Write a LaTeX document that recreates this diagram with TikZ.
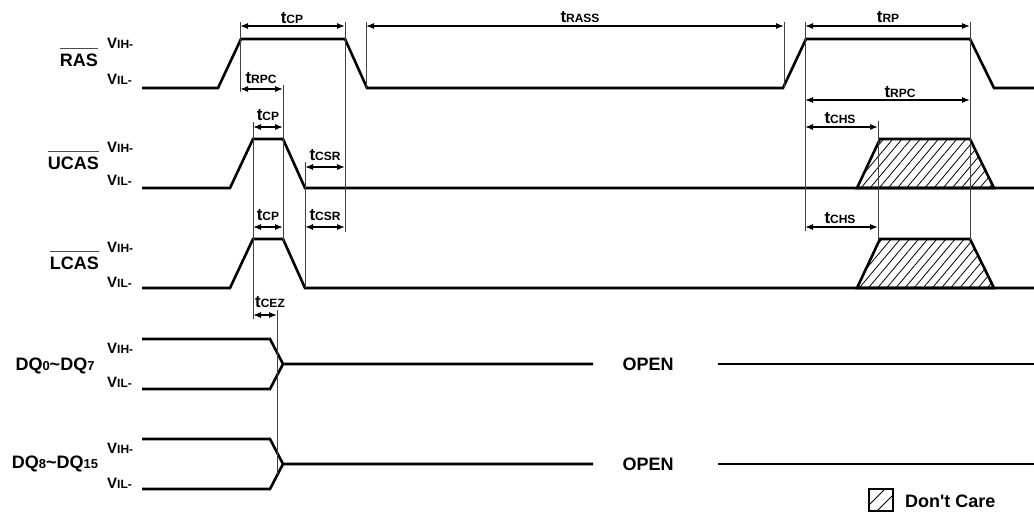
\documentclass[tikz,border=0pt]{standalone}
\usepackage{fontspec}
\setmainfont{Liberation Sans}
\usetikzlibrary{arrows.meta,patterns.meta}
\tikzset{
  >={Latex[length=8pt,width=6pt]},
  wave/.style={line width=2.6pt},
  ext/.style={line width=0.8pt,black!75},
  dimline/.style={<->,line width=1.3pt},
  dimlbl/.style={anchor=base,inner sep=0pt},
  signame/.style={anchor=base east,inner sep=0pt,font=\bfseries\fontsize{18}{18}\selectfont},
  lvl/.style={anchor=base west,inner sep=0pt},
  bigtxt/.style={anchor=base,inner sep=0pt,font=\bfseries\fontsize{18}{18}\selectfont},
  dontcare/.style={pattern={Lines[angle=50,distance=7pt,line width=0.8pt]}},
  ovl/.style={line width=1pt,black!70},
}
\newcommand{\tsub}[1]{{\fontsize{17}{17}\selectfont t}{\fontsize{12}{12}\selectfont #1}}
\newcommand{\vlev}[1]{{\fontsize{15}{15}\selectfont V}{\fontsize{12}{12}\selectfont #1-}}
\newcommand{\dqr}[2]{DQ{\fontsize{13}{13}\selectfont #1}\textasciitilde DQ{\fontsize{13}{13}\selectfont #2}}

\begin{document}
\begin{tikzpicture}[x=1pt,y=-1pt,font=\bfseries]
  \useasboundingbox (0,0) rectangle (1034,517);
  % signal names and levels
  \node[signame] (ras) at (98,66.5) {RAS};
  \node[signame] (ucas) at (99,169.5) {UCAS};
  \node[signame] (lcas) at (99,269.5) {LCAS};
  \foreach \n in {ras,ucas,lcas}
    \draw[ovl] ([yshift=5pt]\n.north west) -- ([yshift=5pt]\n.north east);
  \node[signame,anchor=base] (dqlo) at (55,370) {\dqr{0}{7}};
  \node[signame,anchor=base] (dqhi) at (55,468) {\dqr{8}{15}};
  \foreach \y/\n/\lv in {48.5/rh/IH, 84.5/rl/IL, 152.5/uh/IH, 185.5/ul/IL,
      252.5/lh/IH, 287.5/ll/IL, 353/dh/IH, 387/dl/IL, 453/eh/IH, 488/el/IL}
    \node[lvl] (v\n) at (107,\y) {\vlev{\lv}};
  % waveforms
  \draw[wave] (142,88) -- (218,88) -- (241,39) -- (345,39) -- (367,88)
    -- (783,88) -- (806,39) -- (970,39) -- (994,88) -- (1034,88);
  \foreach \y in {188,288} {
    \draw[wave,dontcare] (857,\y) -- (880,\y-49) -- (970,\y-49) -- (994,\y) -- cycle;
    \draw[wave] (142,\y) -- (230,\y) -- (253,\y-49) -- (283,\y-49) -- (305,\y)
      -- (1034,\y);
  }
  \foreach \y in {364,464} {
    \draw[wave] (142,\y-25) -- (270,\y-25) -- (283,\y) -- (593,\y);
    \draw[wave] (142,\y+25) -- (270,\y+25) -- (283,\y);
    \draw[wave] (718,\y) -- (1034,\y);
    \node[bigtxt] (open\y) at (648,\y+6.5) {OPEN};
  }
  % extension lines
  \foreach \x/\ya/\yb in {240/22/92, 345/22/232, 366/22/88, 784/22/88,
      805/22/231, 970/22/240, 283/85/242, 253/122/319, 277/310/475,
      305/162/288, 878/121/240}
    \draw[ext] (\x,\ya) -- (\x,\yb);
  % timing arrows
  \foreach \xa/\xb/\y/\lx/\ly/\lab in {240/345/26/292/23/CP,
      366/784/26/580/22/RASS, 805/970/26/888/22/RP, 240/283/89/261/83/RPC,
      805/970/100/900/97/RPC, 253/283/127/268/120/CP, 805/878/127/840/123/CHS,
      305/345/167/325/160/CSR, 253/283/227/268/220/CP, 305/345/227/325/220/CSR,
      805/878/227/840/223/CHS, 253/277/315/270/307/CEZ} {
    \coordinate (a) at (\xa,\y);
    \coordinate (b) at (\xb,\y);
    \draw[dimline] (a) -- (b);
    \node[dimlbl] (lbl) at (\lx,\ly) {\tsub{\lab}};
  }
  % legend
  \draw[line width=1.4pt] (869,489) rectangle (893,511);
  \draw[line width=0.8pt] (869,505) -- (885,489) (877,511) -- (893,495);
  \node[bigtxt,anchor=base west] (dc) at (905,507) {Don\textquotesingle t Care};
\end{tikzpicture}
\end{document}
